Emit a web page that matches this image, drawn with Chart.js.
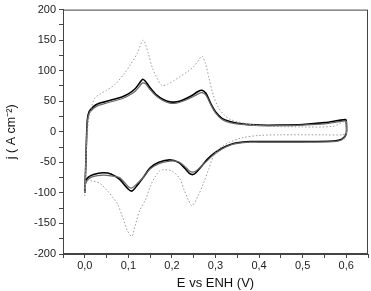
<!DOCTYPE html>
<html><head><meta charset="utf-8">
<script src="https://cdn.jsdelivr.net/npm/chart.js@4"></script>
<style>html,body{margin:0;padding:0;background:#fff}</style>
</head><body>
<canvas id="c" width="371" height="291"></canvas>
<script>
// Stable cycles (black), anodic then cathodic sweep
const cycleE = [0.000,0.002,0.004,0.006,0.010,0.018,0.028,0.045,0.065,0.085,0.100,0.115,0.125,0.133,0.140,0.150,0.165,0.180,0.195,0.210,0.225,0.245,0.260,0.269,0.278,0.290,0.300,0.315,0.333,0.360,0.400,0.450,0.500,0.550,0.598,0.600,
  0.600,0.590,0.570,0.500,0.450,0.400,0.380,0.350,0.333,0.315,0.295,0.280,0.265,0.255,0.248,0.240,0.230,0.215,0.195,0.170,0.150,0.135,0.120,0.108,0.100,0.080,0.060,0.042,0.020,0.007,0.002,0.000,0.000];
const cycleJ = [-100,-60,-10,20,33,40,45,49,53,57,62,70,79,86,82,72,60,53,49,49,52,59,66,68,63,45,33,22,17,13,11,11,12,15,20,18,
  -3,-12,-15,-16,-16,-16,-16,-18,-21,-27,-36,-46,-59,-67,-70,-68,-60,-50,-46,-50,-59,-74,-88,-97,-94,-78,-69,-67,-70,-75,-82,-90,-100];
// Another stable cycle (grey edge of the black band)
const cycle2J = [-100,-60,-12,17,30,37,42,46,50,54,59,66,74,80,78,69,58,51,47,47,50,56,62,64,60,43,31,20,15,12,10,10,11,13,18,16,
  -4,-13,-16,-17,-17,-17,-17,-19,-22,-28,-38,-48,-58,-64,-66,-64,-57,-49,-48,-52,-61,-74,-85,-92,-90,-75,-72,-71,-73,-78,-84,-92,-100];
// First cycle (dotted)
const firstE = [0.000,0.003,0.006,0.010,0.016,0.023,0.035,0.050,0.070,0.090,0.105,0.120,0.134,0.145,0.155,0.168,0.177,0.190,0.205,0.220,0.235,0.250,0.262,0.269,0.277,0.285,0.295,0.305,0.318,0.335,0.360,0.400,0.500,0.570,0.600,
  0.600,0.590,0.550,0.450,0.400,0.360,0.330,0.310,0.295,0.285,0.272,0.260,0.246,0.238,0.228,0.218,0.200,0.180,0.172,0.160,0.149,0.140,0.126,0.115,0.108,0.098,0.087,0.075,0.065,0.050,0.034,0.020,0.008,0.002,0.000];
const firstJ = [-105,-40,0,25,42,55,62,68,78,95,110,128,150,130,105,85,76,78,84,91,98,107,118,124,112,88,60,42,29,20,15,10,8,9,17,
  -2,-5,-5,-5,-6,-10,-18,-27,-40,-60,-85,-105,-121,-112,-95,-77,-64,-62,-64,-75,-92,-110,-129,-155,-171,-162,-140,-118,-108,-95,-84,-81,-80,-86,-95];
const xTicks = {min:-0.05, max:0.65, step:0.05};
const yTicks = {min:-200, max:200, step:25};

const toPts = (E, J) => E.map((e, i) => ({x: e, y: J[i]}));

const frame = {
  id: 'frame',
  afterDraw(chart) {
    const {ctx, chartArea: a} = chart;
    ctx.save();
    ctx.strokeStyle = '#444';
    ctx.lineWidth = 1;
    ctx.strokeRect(a.left + 0.5, a.top + 0.5, a.right - a.left - 1, a.bottom - a.top - 1);
    ctx.restore();
  }
};

new Chart(document.getElementById('c'), {
  type: 'scatter',
  data: {
    datasets: [
      {data: toPts(firstE, firstJ), showLine: true, borderColor: '#9a9a9a', borderWidth: 1, borderDash: [1.5, 2], pointRadius: 0, tension: 0.3},
      {data: toPts(cycleE, cycle2J), showLine: true, borderColor: '#666', borderWidth: 1.2, pointRadius: 0, tension: 0.3},
      {data: toPts(cycleE, cycleJ), showLine: true, borderColor: '#000', borderWidth: 1.6, pointRadius: 0, tension: 0.3}
    ]
  },
  options: {
    responsive: false, devicePixelRatio: 1, animation: false,
    layout: {padding: {top: 6, right: 3, left: 0, bottom: 0}},
    plugins: {legend: {display: false}, tooltip: {enabled: false}},
    scales: {
      x: {
        type: 'linear', min: xTicks.min, max: xTicks.max,
        afterFit: s => { s.height = 37; },
        ticks: {stepSize: xTicks.step, autoSkip: false, maxRotation: 0, color: '#222', padding: 1,
          font: {family: 'Liberation Sans, Arial', size: 11},
          callback: v => { const r = Math.round(v * 100); return (r % 10 === 0) ? (r / 100).toFixed(1).replace('.', ',') : ''; }},
        grid: {drawOnChartArea: false, tickLength: 4, color: '#444'},
        border: {color: '#444'},
        title: {display: true, text: 'E vs ENH (V)', color: '#111', padding: {top: 0, bottom: 0}, font: {family: 'Liberation Sans, Arial', size: 13}}
      },
      y: {
        min: yTicks.min, max: yTicks.max,
        afterFit: s => { s.width = 63; },
        ticks: {stepSize: yTicks.step, autoSkip: false, color: '#222', padding: 3,
          font: {family: 'Liberation Sans, Arial', size: 11},
          callback: v => (Math.round(v) % 50 === 0) ? String(Math.round(v)) : ''},
        grid: {drawOnChartArea: false, tickLength: 4, color: '#444'},
        border: {color: '#444'},
        title: {display: true, text: 'j ( A cm\u207B\u00B2)', color: '#111', padding: {top: 4, bottom: 2}, font: {family: 'Liberation Sans, Arial', size: 12.5}}
      }
    }
  },
  plugins: [frame]
});
</script>
</body></html>
